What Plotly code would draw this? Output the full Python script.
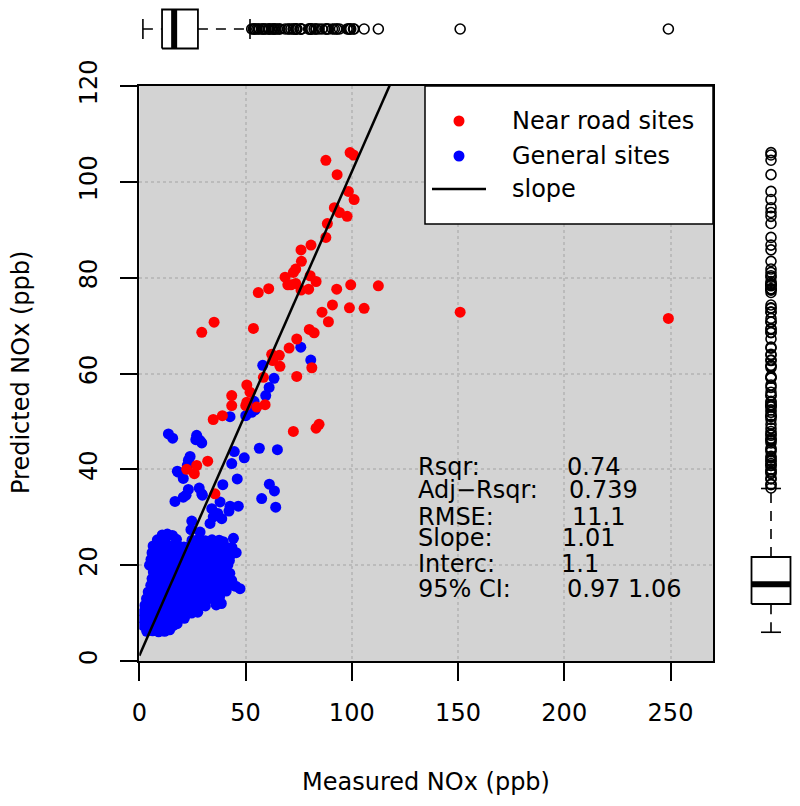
import plotly.graph_objects as go

# measured vs predicted NOx (ppb)
# dense core of the general sites
general_core = [
    (10.8, 26.3), (13.2, 26.5), (15.6, 26.2),
    (8.5, 25.3), (12.0, 25.1), (17.5, 25.4), (24.8, 25.2), (27.9, 25.4), (31.0, 25.1), (34.2, 25.3), (37.6, 25.2), (39.5, 24.9),
    (6.5, 24.0), (9.4, 24.1), (12.3, 23.9), (15.1, 24.0), (18.2, 24.1), (21.0, 23.8), (23.8, 24.0), (26.7, 24.1), (29.8, 23.9), (33.1, 24.0), (36.4, 23.8), (39.9, 24.1), (43.6, 23.7),
    (6.0, 22.6), (8.8, 22.5), (11.6, 22.7), (14.4, 22.6), (17.3, 22.4), (20.2, 22.6), (23.1, 22.7), (26.0, 22.5), (28.9, 22.6), (31.8, 22.4), (34.7, 22.6), (37.6, 22.7), (40.5, 22.5), (43.4, 22.3), (45.6, 22.6),
    (5.5, 21.2), (8.3, 21.3), (11.1, 21.1), (13.9, 21.2), (16.8, 21.4), (19.7, 21.1), (22.5, 21.2), (25.4, 21.3), (28.3, 21.0), (31.2, 21.2), (34.0, 21.3), (36.9, 21.1), (39.8, 21.2), (42.4, 21.0),
    (4.8, 20.0), (7.6, 19.9), (10.5, 20.1), (13.4, 20.0), (16.2, 19.8), (19.1, 20.0), (21.9, 20.1), (24.8, 19.9), (27.7, 20.0), (30.6, 20.2), (33.4, 19.9), (36.2, 20.0), (39.1, 19.8), (41.7, 20.1),
    (6.6, 18.6), (9.5, 18.7), (12.3, 18.5), (15.2, 18.6), (18.0, 18.8), (20.9, 18.6), (23.8, 18.4), (26.6, 18.6), (29.5, 18.7), (32.3, 18.5), (35.2, 18.6), (38.0, 18.4), (40.8, 18.7), (42.6, 18.3),
    (6.0, 17.2), (8.9, 17.3), (11.7, 17.1), (14.6, 17.2), (17.4, 17.4), (20.3, 17.1), (23.1, 17.2), (26.0, 17.3), (28.9, 17.0), (31.7, 17.2), (34.6, 17.3), (37.4, 17.1), (40.2, 17.2), (43.5, 16.8),
    (5.4, 15.8), (8.2, 15.9), (11.1, 15.7), (13.9, 15.8), (16.8, 16.0), (19.6, 15.8), (22.5, 15.6), (25.3, 15.8), (28.2, 15.9), (31.0, 15.7), (33.9, 15.8), (36.7, 15.9), (39.6, 15.6), (42.5, 15.8), (45.4, 15.6), (47.4, 15.1),
    (4.2, 14.4), (7.0, 14.5), (9.9, 14.3), (12.7, 14.4), (15.6, 14.6), (18.4, 14.3), (21.3, 14.4), (24.1, 14.5), (27.0, 14.2), (29.8, 14.4), (32.7, 14.5), (35.5, 14.3), (38.4, 14.4), (40.9, 14.6),
    (3.4, 13.0), (6.2, 13.1), (9.1, 12.9), (11.9, 13.0), (14.8, 13.2), (17.6, 12.9), (20.5, 13.0), (23.3, 13.1), (26.2, 12.8), (29.0, 13.0), (31.9, 13.1), (34.7, 12.9), (37.8, 13.4),
    (2.6, 11.6), (5.4, 11.7), (8.3, 11.5), (11.1, 11.6), (14.0, 11.8), (16.8, 11.5), (19.7, 11.6), (22.5, 11.7), (25.4, 11.4), (28.2, 11.6), (31.1, 11.5), (36.2, 11.7), (38.6, 12.0),
    (2.0, 10.2), (4.7, 10.3), (7.5, 10.1), (10.4, 10.2), (13.2, 10.4), (16.1, 10.1), (18.9, 10.2), (21.8, 10.3), (24.6, 10.0), (27.5, 10.2),
    (1.8, 8.8), (4.2, 8.9), (7.0, 8.7), (9.8, 8.8), (12.7, 9.0), (15.5, 8.7), (18.4, 8.8), (21.2, 8.9),
    (1.9, 7.4), (4.4, 7.5), (7.2, 7.3), (10.0, 7.4), (12.9, 7.6), (15.9, 7.4), (17.8, 7.8),
    (3.5, 6.2), (6.3, 6.3), (9.1, 6.1), (11.9, 6.2), (14.3, 6.5),
]

# scattered general sites outside the core
general_spread = [
    (76.0, 65.5), (80.7, 62.8), (58.1, 61.7), (63.4, 59.0), (61.1, 57.1), (59.5, 55.4), (54.0, 54.2),
    (54.5, 52.4), (52.9, 51.9), (50.1, 51.2), (42.7, 51.0), (13.7, 47.4), (15.7, 46.5), (27.0, 47.1),
    (28.6, 46.0), (26.6, 46.2), (29.4, 45.5), (44.7, 43.7), (56.5, 44.4), (65.0, 44.1), (49.4, 42.4),
    (43.5, 41.2), (23.9, 42.7), (23.1, 41.9), (22.6, 40.8), (17.9, 39.6), (18.4, 39.4), (20.7, 38.1),
    (46.1, 38.0), (61.2, 36.9), (63.6, 35.5), (57.6, 33.9), (64.2, 32.1), (39.3, 36.8), (28.2, 36.1),
    (29.4, 34.9), (29.7, 34.6), (23.1, 35.8), (22.0, 34.6), (20.7, 34.2), (16.8, 33.3), (38.0, 33.2),
    (42.7, 32.3), (46.6, 32.3), (42.2, 31.3), (36.9, 30.8), (34.1, 31.8), (34.8, 30.1), (38.8, 29.7),
    (33.3, 28.7), (24.7, 29.2), (28.6, 26.9), (24.3, 27.4), (44.3, 25.6),
]

near_road = [
    (87.8, 104.5), (99.2, 106.1), (100.8, 105.6), (93.1, 101.5), (98.4, 98.0), (101.1, 96.3),
    (91.8, 94.6), (94.2, 93.6), (97.8, 92.8), (88.5, 91.3), (87.8, 88.4), (76.1, 85.8), (80.8, 86.8),
    (76.3, 83.4), (73.6, 81.8), (72.5, 81.1), (68.6, 80.1), (80.4, 80.4), (83.2, 79.2), (69.9, 78.5),
    (71.4, 78.5), (73.6, 78.8), (76.1, 77.4), (79.7, 77.6), (56.0, 76.9), (60.9, 77.7), (92.9, 77.6),
    (99.5, 78.5), (112.5, 78.3), (90.9, 74.3), (98.9, 73.7), (105.8, 73.6), (86.0, 72.8), (89.0, 70.8),
    (53.7, 69.4), (80.0, 69.2), (82.3, 68.5), (74.1, 67.2), (70.5, 65.3), (62.3, 64.0), (65.9, 63.8),
    (62.8, 62.7), (66.2, 61.5), (81.2, 61.2), (35.2, 70.7), (29.4, 68.6), (74.1, 59.4), (58.4, 59.2),
    (50.6, 57.6), (52.1, 56.1), (43.5, 55.4), (43.5, 53.3), (50.6, 54.0), (50.1, 53.3), (55.3, 53.0),
    (59.2, 53.5), (39.1, 51.2), (34.8, 50.4), (72.5, 47.9), (83.2, 48.6), (84.6, 49.4), (32.2, 41.7),
    (27.0, 40.8), (22.3, 40.0), (25.9, 39.1), (35.6, 34.9), (151.0, 72.8), (249.0, 71.5),
]

# boxplot five-number summaries (lower whisker, Q1, median, Q3, upper whisker)
measured_box = [1.7, 10.7, 16.4, 27.6, 52.1]
predicted_box = [6.0, 11.9, 16.0, 21.7, 36.0]

SLOPE = 1.01
INTERCEPT = 1.1
stat_labels = ["Rsqr:", "Adj\u2212Rsqr:", "RMSE:", "Slope:", "Interc:", "95% CI:"]
stat_values = ["0.74", "0.739", "11.1", "1.01", "1.1", "0.97 1.06"]
stat_rows = [40.5, 35.6, 30.0, 25.6, 20.2, 15.0]
stat_value_x = [200.3, 201.5, 202.8, 198.1, 197.7, 200.3]

FONT = "DejaVu Sans, Liberation Sans, Arial, sans-serif"
FS = 24
W, H = 800, 806
X_RANGE = [0, 270]
Y_RANGE = [0, 120]

general = general_core + general_spread
gx = [p[0] for p in general]
gy = [p[1] for p in general]
rx = [p[0] for p in near_road]
ry = [p[1] for p in near_road]
all_x = gx + rx
all_y = gy + ry

fig = go.Figure()

fig.add_trace(go.Scatter(x=gx, y=gy, mode="markers", xaxis="x", yaxis="y",
                         marker=dict(color="#0000FF", size=11), hoverinfo="skip"))
fig.add_trace(go.Scatter(x=rx, y=ry, mode="markers", xaxis="x", yaxis="y",
                         marker=dict(color="#FF0000", size=11), hoverinfo="skip"))
fig.add_trace(go.Scatter(x=[0, 270], y=[INTERCEPT, INTERCEPT + SLOPE * 270], mode="lines",
                         xaxis="x", yaxis="y", line=dict(color="black", width=2.5), hoverinfo="skip"))


def add_box(stats, values, horizontal, xa, ya):
    lo, q1, med, q3, hi = stats
    h, s = 0.336, 0.172
    outl = [v for v in values if v > hi or v < lo]

    def put(along, across, **kw):
        if horizontal:
            fig.add_trace(go.Scatter(x=along, y=across, xaxis=xa, yaxis=ya, hoverinfo="skip", **kw))
        else:
            fig.add_trace(go.Scatter(x=across, y=along, xaxis=xa, yaxis=ya, hoverinfo="skip", **kw))

    whisk = dict(color="black", width=1.6, dash="10px,8px")
    put([lo, q1], [0, 0], mode="lines", line=whisk)
    put([q3, hi], [0, 0], mode="lines", line=whisk)
    put([lo, lo], [-s, s], mode="lines", line=dict(color="black", width=1.6))
    put([hi, hi], [-s, s], mode="lines", line=dict(color="black", width=1.6))
    put([q1, q3, q3, q1, q1], [-h, -h, h, h, -h], mode="lines", fill="toself",
        fillcolor="white", line=dict(color="black", width=1.8))
    put([med, med], [-h, h], mode="lines", line=dict(color="black", width=6))
    put(outl, [0] * len(outl), mode="markers",
        marker=dict(symbol="circle-open", size=10, color="black", line=dict(width=1.6)))


# marginal boxplots on their own axes (same data ranges, no grid)
add_box(measured_box, all_x, True, "x2", "y2")
add_box(predicted_box, all_y, False, "x3", "y3")

xdom = [139.3 / W, 713 / W]
ydom = [(H - 661) / H, (H - 86) / H]

axis_common = dict(
    showline=True, mirror=True, linecolor="black", linewidth=1.5,
    ticks="outside", ticklen=18, tickwidth=1.5, tickcolor="black",
    showgrid=True, gridcolor="#BBBBBB", griddash="dot", gridwidth=1.5,
    zeroline=False, automargin=False, tickfont=dict(family=FONT, size=FS, color="black"),
)

# grey panel behind the main scatter only
shapes = [
    dict(type="rect", xref="x domain", yref="y domain", x0=0, x1=1, y0=0, y1=1,
         fillcolor="#D3D3D3", line=dict(width=0), layer="below"),
]

# legend drawn by hand in the R style
lx0, lx1, ly0, ly1 = 425 / W, 713 / W, 1 - 224 / H, 1 - 86 / H
shapes += [
    dict(type="rect", xref="paper", yref="paper", x0=lx0, x1=lx1, y0=ly0, y1=ly1,
         fillcolor="white", line=dict(color="black", width=1.5), layer="above"),
    dict(type="circle", xref="paper", yref="paper", xsizemode="pixel", ysizemode="pixel",
         xanchor=459 / W, yanchor=1 - 121 / H, x0=-5.5, x1=5.5, y0=-5.5, y1=5.5,
         fillcolor="#FF0000", line=dict(width=0), layer="above"),
    dict(type="circle", xref="paper", yref="paper", xsizemode="pixel", ysizemode="pixel",
         xanchor=459 / W, yanchor=1 - 156 / H, x0=-5.5, x1=5.5, y0=-5.5, y1=5.5,
         fillcolor="#0000FF", line=dict(width=0), layer="above"),
    dict(type="line", xref="paper", yref="paper", x0=432 / W, x1=486 / W,
         y0=1 - 189 / H, y1=1 - 189 / H, line=dict(color="black", width=2.5), layer="above"),
]

txt = dict(family=FONT, size=FS, color="black")
annotations = []
for label, yc in zip(["Near road sites", "General sites", "slope"], [121, 156, 189]):
    annotations.append(dict(text=label, xref="paper", yref="paper", x=510 / W, y=1 - yc / H,
                            xanchor="left", yanchor="middle", showarrow=False, font=txt))

for lab, val, yv, xv in zip(stat_labels, stat_values, stat_rows, stat_value_x):
    annotations.append(dict(text=lab, xref="x", yref="y", x=130.0, y=yv, xanchor="left",
                            yanchor="middle", showarrow=False, font=txt))
    annotations.append(dict(text=val, xref="x", yref="y", x=xv, y=yv, xanchor="left",
                            yanchor="middle", showarrow=False, font=txt))

annotations.append(dict(text="Measured NOx (ppb)", xref="paper", yref="paper", x=426 / W,
                        y=(H - 782) / H, xanchor="center", yanchor="middle", showarrow=False, font=txt))
annotations.append(dict(text="Predicted NOx (ppb)", xref="paper", yref="paper", x=21 / W,
                        y=(H - 373) / H, xanchor="center", yanchor="middle", textangle=-90,
                        showarrow=False, font=txt))

fig.update_layout(
    width=W, height=H,
    margin=dict(l=0, r=0, t=0, b=0),
    paper_bgcolor="white", plot_bgcolor="white",
    showlegend=False,
    xaxis=dict(domain=xdom, range=X_RANGE, tickvals=[0, 50, 100, 150, 200, 250],
               anchor="y", ticklabelstandoff=11, **axis_common),
    yaxis=dict(domain=ydom, range=Y_RANGE, tickvals=[0, 20, 40, 60, 80, 100, 120],
               anchor="x", tickangle=-90, ticklabelstandoff=13, **axis_common),
    xaxis2=dict(domain=xdom, range=X_RANGE, anchor="y2", visible=False, showgrid=False),
    yaxis2=dict(domain=[1 - 58 / H, 1], range=[-0.5, 0.5], anchor="x2", visible=False, showgrid=False),
    xaxis3=dict(domain=[742 / W, 1], range=[-0.5, 0.5], anchor="y3", visible=False, showgrid=False),
    yaxis3=dict(domain=ydom, range=Y_RANGE, anchor="x3", visible=False, showgrid=False),
    shapes=shapes,
    annotations=annotations,
)

# the page body has a default 8px margin; drop it so the figure sits at the origin
fig.write_html("out.html", config={"displayModeBar": False},
               post_script="document.body.style.margin='0px';")
